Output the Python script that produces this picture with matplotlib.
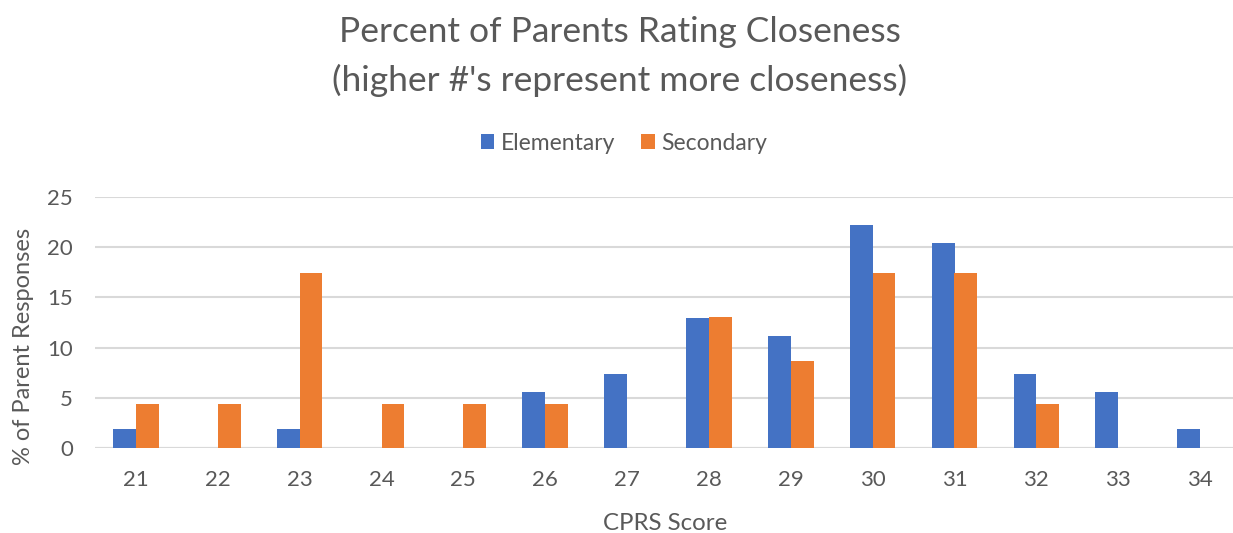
import numpy as np
import matplotlib
matplotlib.use("Agg")
import matplotlib.pyplot as plt

# CPRS score categories and percent of parent responses per group
scores = [21, 22, 23, 24, 25, 26, 27, 28, 29, 30, 31, 32, 33, 34]
elementary = [1.85, 0, 1.85, 0, 0, 5.56, 7.41, 12.96, 11.11, 22.22, 20.37, 7.41, 5.56, 1.85]
secondary = [4.35, 4.35, 17.39, 4.35, 4.35, 4.35, 0, 13.04, 8.70, 17.39, 17.39, 4.35, 0, 0]
yticks = [0, 5, 10, 15, 20, 25]

BLUE = "#4472c4"
ORANGE = "#ed7d31"
GREY = "#595959"
GRID = "#d9d9d9"

plt.rcParams["font.family"] = ["Lato", "DejaVu Sans"]

W, H = 1233, 533
fig = plt.figure(figsize=(W / 100, H / 100), dpi=100)
# axes placed in pixel coords (x0, y_zero, x1, y_top)
x0, x1, y0, y1 = 95, 1241, 448, 197
ax = fig.add_axes([x0 / W, 1 - y0 / H, (x1 - x0) / W, (y0 - y1) / H])

x = np.arange(len(scores))
bw = 0.278
ax.bar(x - bw / 2, elementary, bw, color=BLUE, label="Elementary", zorder=3)
ax.bar(x + bw / 2, secondary, bw, color=ORANGE, label="Secondary", zorder=3)

ax.set_xlim(-0.5, len(scores) - 0.5)
ax.set_ylim(0, 25)
ax.set_yticks(yticks)
ax.set_xticks(x)
ax.set_xticklabels([str(s) for s in scores])
ax.yaxis.grid(True, color=GRID, lw=1.5, zorder=0)
ax.set_axisbelow(True)
for s in ax.spines.values():
    s.set_visible(False)
ax.axhline(0, color=GRID, lw=1.5, zorder=2)
ax.tick_params(length=0, labelsize=16, colors=GREY)
ax.tick_params(axis="x", pad=16)
ax.tick_params(axis="y", pad=16)

fig.text(665 / W, 1 - 523 / H, "CPRS Score", ha="center", va="center",
         fontsize=17.3, color=GREY)
fig.text(24 / W, 1 - 346 / H, "% of Parent Responses", ha="center", va="center",
         rotation=90, fontsize=17, color=GREY)

fig.text(620 / W, 1 - 32 / H, "Percent of Parents Rating Closeness", ha="center", va="center",
         fontsize=25.5, color=GREY)
fig.text(620 / W, 1 - 80 / H, "(higher #'s represent more closeness)", ha="center", va="center",
         fontsize=25.5, color=GREY)

fig.legend(loc="center", bbox_to_anchor=(624 / W, 1 - 143 / H), ncol=2, frameon=False,
           fontsize=16.5, labelcolor=GREY, handlelength=0.6, handleheight=0.6,
           columnspacing=1.1, handletextpad=0.3)

fig.savefig("out.png", dpi=100)
